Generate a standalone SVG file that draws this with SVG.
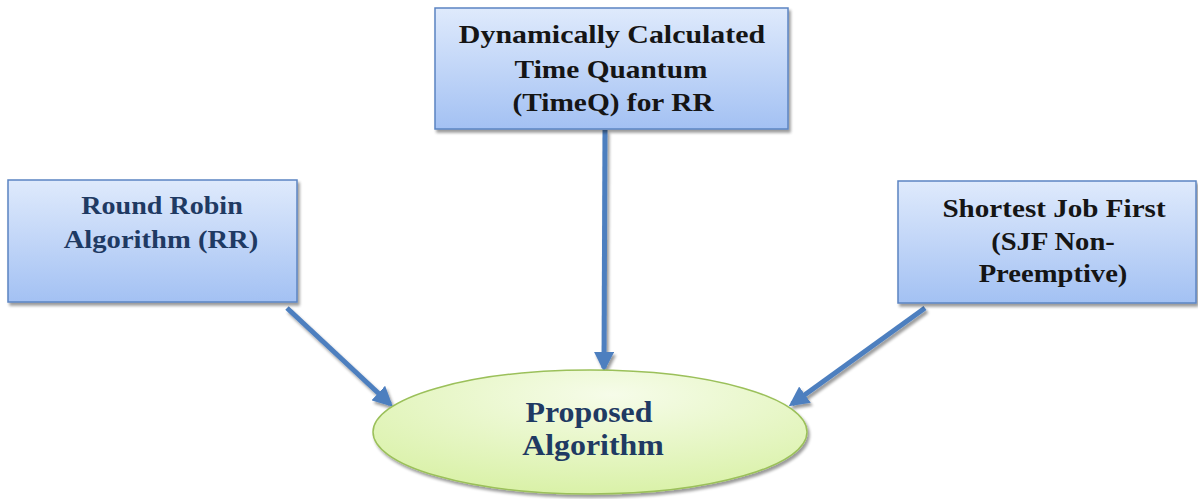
<svg xmlns="http://www.w3.org/2000/svg" width="1198" height="499" viewBox="0 0 1198 499">
<defs>
<linearGradient id="gBlue" x1="0" y1="0" x2="0" y2="1">
<stop offset="0" stop-color="#dfeafc"/>
<stop offset="1" stop-color="#a3c1f3"/>
</linearGradient>
<radialGradient id="gGreen" cx="0.55" cy="0.2" r="0.9">
<stop offset="0" stop-color="#f6fce9"/>
<stop offset="1" stop-color="#d6f0a0"/>
</radialGradient>
<filter id="sh" x="-10%" y="-10%" width="130%" height="130%">
<feGaussianBlur in="SourceAlpha" stdDeviation="1.5"/>
<feOffset dx="2" dy="3" result="b"/>
<feComponentTransfer><feFuncA type="linear" slope="0.4"/></feComponentTransfer>
<feMerge><feMergeNode/><feMergeNode in="SourceGraphic"/></feMerge>
</filter>
<marker id="ah" viewBox="0 0 10 10" refX="8" refY="5" markerWidth="4" markerHeight="4" orient="auto" markerUnits="strokeWidth">
<path d="M0,0 L10,5 L0,10 Z" fill="#4d7fbf"/>
</marker>
</defs>
<g id="connectors" filter="url(#sh)" stroke="#4d7fbf" stroke-width="5" fill="none" marker-end="url(#ah)">
<line x1="605" y1="130" x2="604" y2="368"/>
<line x1="287" y1="308" x2="390" y2="404"/>
<line x1="925" y1="308" x2="792" y2="404"/>
</g>
<g id="n-timeq">
<rect x="435" y="8" width="353" height="121" fill="url(#gBlue)" stroke="#5b84c2" stroke-width="1.5" filter="url(#sh)"/>
<text font-family="Liberation Serif" font-weight="bold" font-size="26" text-anchor="middle" fill="#151515" transform="translate(612,43) scale(1.15,1)">Dynamically Calculated</text>
<text font-family="Liberation Serif" font-weight="bold" font-size="26" text-anchor="middle" fill="#151515" transform="translate(611,78) scale(1.13,1)">Time Quantum</text>
<text font-family="Liberation Serif" font-weight="bold" font-size="26" text-anchor="middle" fill="#151515" transform="translate(613,111) scale(1.13,1)">(TimeQ) for RR</text>
</g>
<g id="n-rr">
<rect x="8" y="180" width="289" height="122" fill="url(#gBlue)" stroke="#5b84c2" stroke-width="1.5" filter="url(#sh)"/>
<text font-family="Liberation Serif" font-weight="bold" font-size="26" text-anchor="middle" fill="#1f3a63" transform="translate(162,214) scale(1.08,1)">Round Robin</text>
<text font-family="Liberation Serif" font-weight="bold" font-size="26" text-anchor="middle" fill="#1f3a63" transform="translate(161,248) scale(1.1,1)">Algorithm (RR)</text>
</g>
<g id="n-sjf">
<rect x="898" y="181" width="298" height="122" fill="url(#gBlue)" stroke="#5b84c2" stroke-width="1.5" filter="url(#sh)"/>
<text font-family="Liberation Serif" font-weight="bold" font-size="26" text-anchor="middle" fill="#151515" transform="translate(1054,217) scale(1.12,1)">Shortest Job First</text>
<text font-family="Liberation Serif" font-weight="bold" font-size="26" text-anchor="middle" fill="#151515" transform="translate(1053,250) scale(1.1,1)">(SJF Non-</text>
<text font-family="Liberation Serif" font-weight="bold" font-size="26" text-anchor="middle" fill="#151515" transform="translate(1053,282) scale(1.1,1)">Preemptive)</text>
</g>
<g id="n-proposed">
<ellipse cx="590" cy="432" rx="217" ry="62" fill="url(#gGreen)" stroke="#9bc05a" stroke-width="1.5" filter="url(#sh)"/>
<text font-family="Liberation Serif" font-weight="bold" font-size="29" text-anchor="middle" fill="#1f3a63" transform="translate(589,422) scale(1.1,1)">Proposed</text>
<text font-family="Liberation Serif" font-weight="bold" font-size="29" text-anchor="middle" fill="#1f3a63" transform="translate(593,455) scale(1.1,1)">Algorithm</text>
</g>
</svg>
